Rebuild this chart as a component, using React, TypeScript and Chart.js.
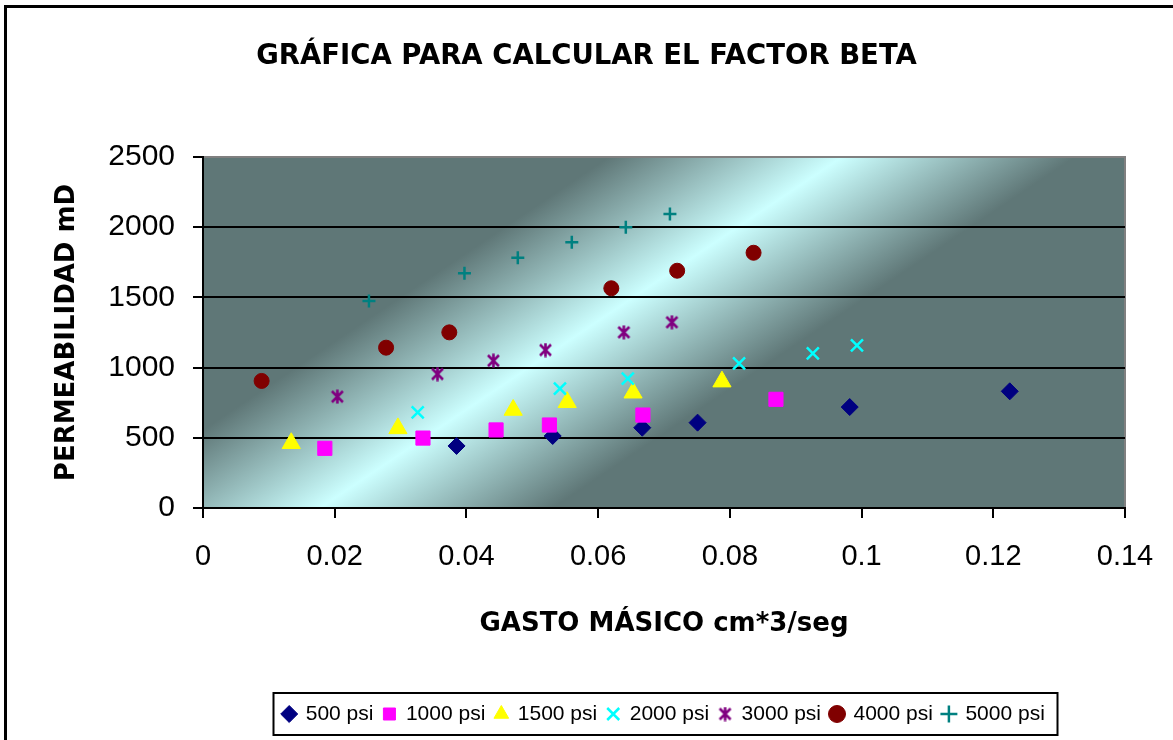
import React, { useEffect, useRef } from 'react';
import { Chart, registerables } from 'chart.js';

Chart.register(...registerables);

const chartTitle = 'GRÁFICA PARA CALCULAR EL FACTOR BETA';
const xAxisTitle = 'GASTO MÁSICO cm*3/seg';
const yAxisTitle = 'PERMEABILIDAD mD';

const seriesNames = ['500 psi', '1000 psi', '1500 psi', '2000 psi', '3000 psi', '4000 psi', '5000 psi'];

const x500 = [0.0385, 0.0531, 0.0667, 0.0751, 0.0982, 0.1225];
const y500 = [442, 513, 572, 608, 719, 831];
const x1000 = [0.0185, 0.0334, 0.0445, 0.0526, 0.0668, 0.087];
const y1000 = [425, 498, 556, 591, 662, 774];
const x1500 = [0.0134, 0.0296, 0.0471, 0.0553, 0.0653, 0.0788];
const y1500 = [461, 567, 698, 753, 821, 900];
const x2000 = [0.0326, 0.0542, 0.0645, 0.0814, 0.0926, 0.0993];
const y2000 = [681, 850, 921, 1030, 1102, 1159];
const x3000 = [0.0204, 0.0356, 0.0441, 0.052, 0.0639, 0.0712];
const y3000 = [793, 954, 1049, 1125, 1251, 1323];
const x4000 = [0.0089, 0.0278, 0.0374, 0.062, 0.072, 0.0836];
const y4000 = [905, 1142, 1251, 1565, 1690, 1818];
const x5000 = [0.0252, 0.0397, 0.0478, 0.056, 0.0642, 0.0709];
const y5000 = [1474, 1672, 1783, 1892, 1999, 2094];

const xTickLabels = ['0', '0.02', '0.04', '0.06', '0.08', '0.1', '0.12', '0.14'];
const yTickLabels = ['0', '500', '1000', '1500', '2000', '2500'];

const toPoints = (xs: number[], ys: number[]) => xs.map((x, i) => ({ x, y: ys[i] }));

function makeStar(color: string): HTMLCanvasElement {
  const c = document.createElement('canvas');
  c.width = 15;
  c.height = 15;
  const g = c.getContext('2d')!;
  g.strokeStyle = color;
  g.lineWidth = 2.6;
  g.beginPath();
  g.moveTo(2, 2);
  g.lineTo(13, 13);
  g.moveTo(13, 2);
  g.lineTo(2, 13);
  g.moveTo(7.5, 0.5);
  g.lineTo(7.5, 14.5);
  g.stroke();
  return c;
}

const decorPlugin = {
  id: 'decor',
  beforeDraw(chart: any) {
    const { ctx, chartArea: a } = chart;
    ctx.save();
    ctx.fillStyle = '#ffffff';
    ctx.fillRect(0, 0, chart.width, chart.height);
    const w = a.right - a.left;
    const h = a.bottom - a.top;
    const cx = a.left + 0.41 * w;
    const cy = a.top + 0.5 * h;
    const nx = 0.558;
    const ny = 0.83;
    const L = 130;
    const g = ctx.createLinearGradient(cx - nx * L, cy - ny * L, cx + nx * L, cy + ny * L);
    g.addColorStop(0, '#5F7777');
    g.addColorStop(0.5, '#CCFFFF');
    g.addColorStop(1, '#5F7777');
    ctx.fillStyle = g;
    ctx.fillRect(a.left, a.top, w, h);
    ctx.strokeStyle = '#808080';
    ctx.lineWidth = 2;
    ctx.strokeRect(a.left, a.top, w, h);
    ctx.restore();
  },
  afterDraw(chart: any) {
    const { ctx } = chart;
    ctx.save();
    ctx.strokeStyle = '#000';
    ctx.lineWidth = 3;
    ctx.strokeRect(5.5, 6.5, 1300, 900);
    const hb = chart.legend && chart.legend.legendHitBoxes;
    if (hb && hb.length) {
      let l = Infinity, r = -Infinity, t = Infinity, b = -Infinity;
      hb.forEach((h: any) => {
        l = Math.min(l, h.left);
        r = Math.max(r, h.left + h.width);
        t = Math.min(t, h.top);
        b = Math.max(b, h.top + h.height);
      });
      const cy = (t + b) / 2;
      ctx.lineWidth = 2;
      ctx.strokeRect(Math.round(l - 10) + 0.5, Math.round(cy - 21), Math.round(r - l + 22), 42);
    }
    ctx.restore();
  },
};

export default function App() {
  const ref = useRef<HTMLCanvasElement | null>(null);

  useEffect(() => {
    if (!ref.current) return;
    const star = makeStar('#800080');
    const common = { showLine: false };
    const chart = new Chart(ref.current, {
      type: 'scatter',
      data: {
        datasets: [
          { ...common, label: seriesNames[0], data: toPoints(x500, y500), pointStyle: 'rectRot', pointRadius: 8.5, pointBackgroundColor: '#000080', pointBorderColor: '#000080', pointBorderWidth: 1, backgroundColor: '#000080', borderColor: '#000080', order: 7 },
          { ...common, label: seriesNames[1], data: toPoints(x1000, y1000), pointStyle: 'rect', pointRadius: 10, pointBackgroundColor: '#FF00FF', pointBorderColor: '#FF00FF', pointBorderWidth: 1, backgroundColor: '#FF00FF', borderColor: '#FF00FF', order: 6 },
          { ...common, label: seriesNames[2], data: toPoints(x1500, y1500), pointStyle: 'triangle', pointRadius: 10.5, pointBackgroundColor: '#FFFF00', pointBorderColor: '#FFFF00', pointBorderWidth: 1, backgroundColor: '#FFFF00', borderColor: '#FFFF00', order: 5 },
          { ...common, label: seriesNames[3], data: toPoints(x2000, y2000), pointStyle: 'crossRot', pointRadius: 8.5, pointBackgroundColor: '#00FFFF', pointBorderColor: '#00FFFF', pointBorderWidth: 2.5, backgroundColor: '#00FFFF', borderColor: '#00FFFF', order: 4 },
          { ...common, label: seriesNames[4], data: toPoints(x3000, y3000), pointStyle: star, pointRadius: 7.5, pointBackgroundColor: '#800080', pointBorderColor: '#800080', pointBorderWidth: 2, backgroundColor: '#800080', borderColor: '#800080', order: 3 },
          { ...common, label: seriesNames[5], data: toPoints(x4000, y4000), pointStyle: 'circle', pointRadius: 7.5, pointBackgroundColor: '#800000', pointBorderColor: '#800000', pointBorderWidth: 1, backgroundColor: '#800000', borderColor: '#800000', order: 2 },
          { ...common, label: seriesNames[6], data: toPoints(x5000, y5000), pointStyle: 'cross', pointRadius: 6.5, pointBackgroundColor: '#008080', pointBorderColor: '#008080', pointBorderWidth: 2.5, backgroundColor: '#008080', borderColor: '#008080', order: 1 },
        ],
      },
      options: {
        responsive: false,
        animation: false,
        events: [],
        color: '#000',
        layout: { padding: { left: 0, right: 0, top: 0, bottom: 5.5 } },
        plugins: {
          title: {
            display: true,
            text: chartTitle,
            color: '#000',
            font: { family: 'DejaVu Sans', size: 27.5, weight: 'bold' },
            padding: { top: 40.5, bottom: 83.5 },
          },
          legend: {
            display: true,
            position: 'bottom',
            fullSize: false,
            labels: {
              usePointStyle: true,
              boxWidth: 12,
              boxHeight: 12,
              padding: 10,
              color: '#000',
              font: { family: 'Liberation Sans', size: 21 },
              sort: (a: any, b: any) => a.datasetIndex - b.datasetIndex,
            },
          },
          tooltip: { enabled: false },
        },
        scales: {
          x: {
            type: 'linear',
            min: 0,
            max: 0.14,
            afterFit: (scale: any) => {
              scale.height = 185.5;
              scale.paddingRight = 48;
            },
            ticks: {
              stepSize: 0.02,
              padding: 22,
              color: '#000',
              font: { family: 'Liberation Sans', size: 29 },
              maxRotation: 0,
              callback: (_v: any, i: number) => xTickLabels[i],
            },
            grid: { drawOnChartArea: false, drawTicks: true, tickLength: 10, tickColor: '#000', color: '#000', lineWidth: 2 },
            border: { display: true, color: '#000', width: 2 },
            title: {
              display: true,
              text: xAxisTitle,
              color: '#000',
              font: { family: 'DejaVu Sans', size: 26, weight: 'bold' },
              padding: { top: 12, bottom: 53.9 },
            },
          },
          y: {
            type: 'linear',
            min: 0,
            max: 2500,
            afterFit: (scale: any) => {
              scale.width = 203;
            },
            ticks: {
              stepSize: 500,
              padding: 18,
              color: '#000',
              font: { family: 'Liberation Sans', size: 30 },
              callback: (_v: any, i: number) => yTickLabels[i],
            },
            grid: {
              drawTicks: true,
              tickLength: 10,
              tickColor: '#000',
              lineWidth: 2,
              color: (c: any) => (c.tick && c.tick.value === 2500 ? '#808080' : '#000'),
            },
            border: { display: true, color: '#000', width: 2 },
            title: {
              display: true,
              text: yAxisTitle,
              color: '#000',
              font: { family: 'DejaVu Sans', size: 26, weight: 'bold' },
              padding: { top: 52, bottom: 0 },
            },
          },
        },
      },
      plugins: [decorPlugin],
    } as any);
    return () => chart.destroy();
  }, []);

  return (
    <div style={{ position: 'absolute', left: 0, top: 0, width: 1173, height: 740, background: '#fff' }}>
      <canvas ref={ref} width={1173} height={740} style={{ display: 'block' }} />
    </div>
  );
}
